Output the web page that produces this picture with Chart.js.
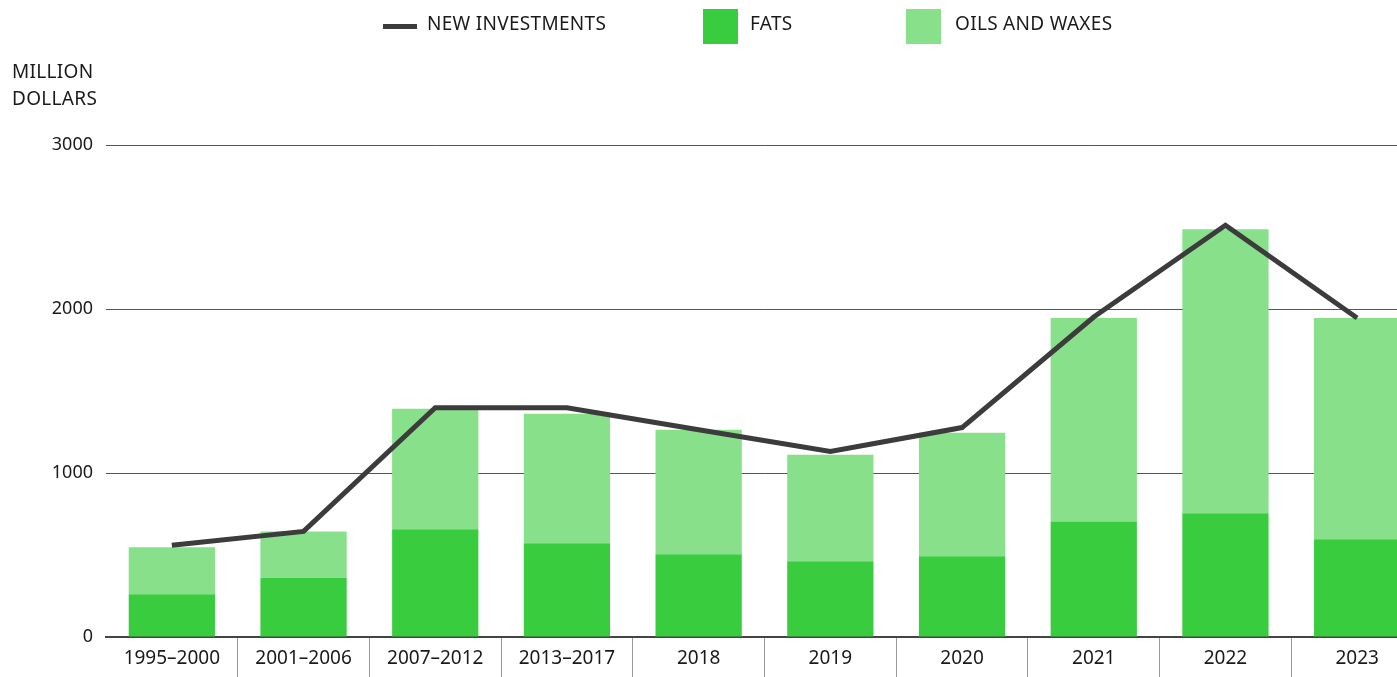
<!DOCTYPE html>
<html>
<head>
<meta charset="utf-8">
<script src="https://cdn.jsdelivr.net/npm/chart.js@4"></script>
<style>
  html, body { margin: 0; padding: 0; background: #fff; overflow: hidden; }
  #wrap { position: relative; width: 1426px; height: 677px; }
  .lbl { position: absolute; font-family: "Noto Sans", sans-serif; font-size: 19px; letter-spacing: 0.3px; color: #1a1a1a; line-height: 1; white-space: nowrap; }
  .sw { position: absolute; }
</style>
</head>
<body>
<div id="wrap">
  <canvas id="chartID"></canvas>
  <!-- legend -->
  <div class="sw" style="left:383px;top:24px;width:34px;height:5px;background:#3c3c3c"></div>
  <div class="lbl" style="left:427px;top:14px">NEW INVESTMENTS</div>
  <div class="sw" style="left:703px;top:9px;width:35px;height:35px;background:#3acc3f"></div>
  <div class="lbl" style="left:750px;top:14px">FATS</div>
  <div class="sw" style="left:906px;top:9px;width:35px;height:35px;background:#88e08a"></div>
  <div class="lbl" style="left:955px;top:14px">OILS AND WAXES</div>
  <!-- y axis title -->
  <div class="lbl" style="left:12px;top:58px;line-height:27px">MILLION<br>DOLLARS</div>
</div>
<script>
var categories = ['1995–2000', '2001–2006', '2007–2012', '2013–2017', '2018', '2019', '2020', '2021', '2022', '2023'];
var fats = [261, 359, 657, 571, 505, 462, 492, 705, 754, 596];
var oils_and_waxes = [286, 285, 735, 791, 759, 650, 754, 1240, 1732, 1349];
var new_investments = [559, 644, 1398, 1398, 1264, 1131, 1277, 1951, 2511, 1945];
var y_ticks = [0, 1000, 2000, 3000];

var font_name = '"Noto Sans", sans-serif';

var chart_config = {
    type: 'bar',
    data: {
        labels: categories,
        datasets: [
            {
                type: 'line',
                label: 'NEW INVESTMENTS',
                data: new_investments,
                stack: 'inv',
                borderColor: '#3c3c3c',
                borderWidth: 5,
                pointRadius: 0,
                tension: 0,
                fill: false,
                order: 0
            },
            {
                label: 'FATS',
                data: fats,
                stack: 'bars',
                backgroundColor: '#3acc3f',
                categoryPercentage: 1,
                barPercentage: 0.655,
                order: 1
            },
            {
                label: 'OILS AND WAXES',
                data: oils_and_waxes,
                stack: 'bars',
                backgroundColor: '#88e08a',
                categoryPercentage: 1,
                barPercentage: 0.655,
                order: 1
            }
        ]
    },
    options: {
        responsive: true,
        maintainAspectRatio: false,
        animation: false,
        layout: { padding: { top: 145, right: 3, left: 0, bottom: 0 } },
        plugins: {
            legend: { display: false },
            tooltip: { enabled: false }
        },
        scales: {
            x: {
                stacked: true,
                offset: true,
                afterFit: function(scale) { scale.height = 40; },
                border: { display: true, color: '#444', width: 2 },
                grid: {
                    offset: true,
                    drawOnChartArea: false,
                    tickLength: 40,
                    color: function(ctx) { return ctx.index === 0 ? 'rgba(0,0,0,0)' : '#999'; },
                    lineWidth: 1
                },
                ticks: {
                    padding: -30,
                    color: '#1a1a1a',
                    font: { family: font_name, size: 19 }
                }
            },
            y: {
                stacked: true,
                min: 0,
                max: 3000,
                afterFit: function(scale) { scale.width = 106; },
                afterBuildTicks: function(scale) {
                    scale.ticks = y_ticks.map(function(v) { return { value: v }; });
                },
                border: { display: false },
                grid: { drawTicks: false, color: '#555', lineWidth: 1 },
                ticks: {
                    padding: 13,
                    color: '#1a1a1a',
                    font: { family: font_name, size: 18 },
                    callback: function(v) { return String(v); }
                }
            }
        }
    }
};

var myContext = document.getElementById('chartID');
var myChart = new Chart(myContext, chart_config);
</script>
</body>
</html>
